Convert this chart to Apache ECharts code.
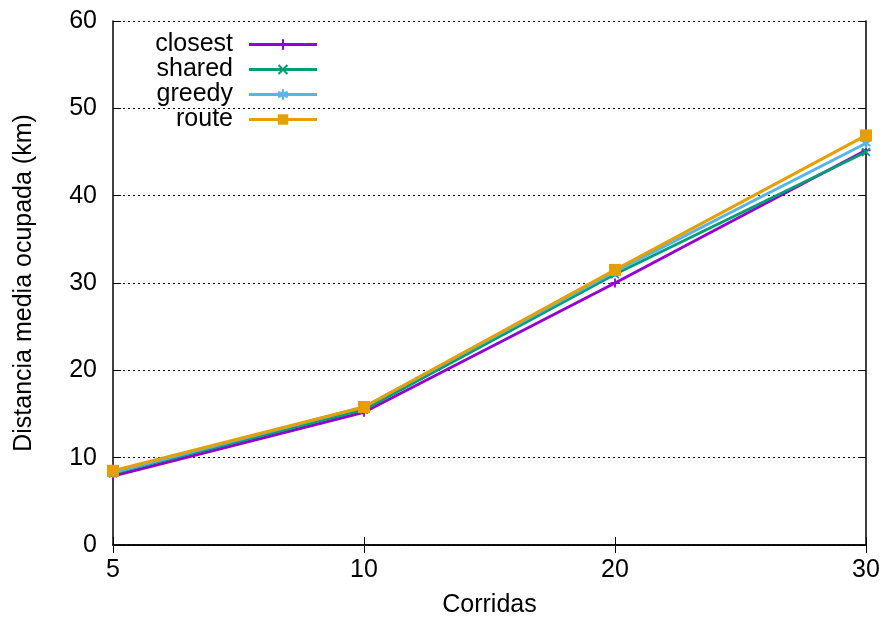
<!DOCTYPE html>
<html>
<head>
<meta charset="utf-8">
<script src="https://cdn.jsdelivr.net/npm/echarts@6/dist/echarts.min.js"></script>
<style>
  html, body { margin: 0; padding: 0; background: #fff; }
  #chart { width: 885px; height: 623px; }
</style>
</head>
<body>
<div id="chart"></div>
<script>
var corridas = ['5', '10', '20', '30'];
var closest = [7.9, 15.2, 30.0, 45.2];
var shared = [8.2, 15.5, 31.0, 45.0];
var greedy = [8.3, 15.8, 31.3, 46.0];
var route = [8.5, 15.8, 31.5, 46.9];
var yTicks = [0, 10, 20, 30, 40, 50, 60];

var font = 'Liberation Sans, Arial, sans-serif';

// marcadores estilo gnuplot
var plusSym = 'path://M4,0L6,0L6,4L10,4L10,6L6,6L6,10L4,10L4,6L0,6L0,4L4,4Z';
var crossSym = 'path://M0,1.4L1.4,0L5,3.6L8.6,0L10,1.4L6.4,5L10,8.6L8.6,10L5,6.4L1.4,10L0,8.6L3.6,5Z';
var starSym = 'path://M4,0L6,0L6,3L8.6,1.4L9.6,3.2L7,5L9.6,6.8L8.6,8.6L6,7L6,10L4,10L4,7L1.4,8.6L0.4,6.8L3,5L0.4,3.2L1.4,1.4L4,3Z';

function mkSeries(name, data, color, symbol, size) {
    return {
        name: name,
        type: 'line',
        data: data,
        symbol: symbol,
        symbolSize: size,
        showSymbol: true,
        lineStyle: { color: color, width: 3 },
        itemStyle: { color: color },
        emphasis: { disabled: true },
        animation: false
    };
}

var axisLineStyle = { show: true, lineStyle: { color: '#000', width: 1.5 } };
var tickStyle = { show: true, inside: true, length: 8, lineStyle: { color: '#000' } };

var chart = echarts.init(document.getElementById('chart'));
var option = {
    animation: false,
    textStyle: { fontFamily: font },
    grid: { left: 113, right: 19, top: 21, bottom: 78 },
    legend: {
        orient: 'vertical',
        left: 143,
        top: 27,
        align: 'right',
        itemGap: 0,
        itemWidth: 68,
        itemHeight: 13,
        lineStyle: { width: 3 },
        textStyle: {
            fontSize: 25, color: '#000', fontFamily: font,
            width: 85, align: 'right', lineHeight: 25, padding: [0, 11, 0, 0]
        },
        data: ['closest', 'shared', 'greedy', 'route']
    },
    xAxis: [{
        type: 'category',
        data: corridas,
        boundaryGap: false,
        name: 'Corridas',
        nameLocation: 'middle',
        nameGap: 48,
        nameTextStyle: { fontSize: 25, color: '#000' },
        axisLine: axisLineStyle,
        axisTick: tickStyle,
        axisLabel: { fontSize: 25, color: '#000', margin: 13 },
        splitLine: { show: false }
    }, {
        type: 'category',
        data: corridas,
        boundaryGap: false,
        position: 'top',
        axisLine: axisLineStyle,
        axisTick: tickStyle,
        axisLabel: { show: false },
        splitLine: { show: false }
    }],
    yAxis: [{
        type: 'value',
        min: yTicks[0],
        max: yTicks[yTicks.length - 1],
        interval: 10,
        name: 'Distancia media ocupada (km)',
        nameLocation: 'middle',
        nameGap: 76,
        nameTextStyle: { fontSize: 25, color: '#000' },
        axisLine: axisLineStyle,
        axisTick: tickStyle,
        axisLabel: { fontSize: 25, color: '#000', margin: 16 },
        splitLine: { show: true, lineStyle: { color: '#000', width: 1, type: [2, 3] } }
    }, {
        type: 'value',
        min: yTicks[0],
        max: yTicks[yTicks.length - 1],
        interval: 10,
        position: 'right',
        axisLine: axisLineStyle,
        axisTick: tickStyle,
        axisLabel: { show: false },
        splitLine: { show: false }
    }],
    series: [
        mkSeries('closest', closest, '#9400d3', plusSym, 9),
        mkSeries('shared', shared, '#009e73', crossSym, 9),
        mkSeries('greedy', greedy, '#56b4e9', starSym, 10),
        mkSeries('route', route, '#e69f00', 'rect', 12)
    ]
};
chart.setOption(option);
</script>
</body>
</html>
